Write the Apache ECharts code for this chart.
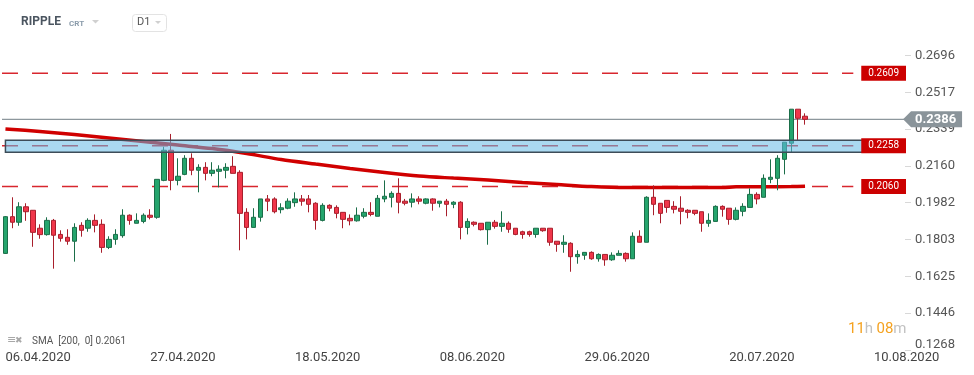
<!DOCTYPE html>
<html>
<head>
<meta charset="utf-8">
<script src="https://cdn.jsdelivr.net/npm/echarts@6/dist/echarts.min.js"></script>
<style>
html,body{margin:0;padding:0;background:#fff;}
#c{width:974px;height:375px;}
</style>
</head>
<body>
<div id="c"></div>
<script>
// ---------- data ----------
const dayCount = 131;           // axis runs from 06.04.2020 to 14.08.2020
const labelEvery = 21;          // one date label every three weeks

const opens = [0.1736,0.1914,0.1887,0.1962,0.1945,0.1858,0.1827,0.1896,0.1828,0.1814,
0.1795,0.1872,0.1858,0.1896,0.1877,0.1765,0.1804,0.1822,0.1921,0.1882,
0.1891,0.1921,0.1911,0.2090,0.2236,0.2090,0.2119,0.2197,0.2139,0.2153,
0.2124,0.2134,0.2139,0.2158,0.2129,0.1935,0.1862,0.1911,0.2000,0.2000,
0.1948,0.1955,0.1982,0.2000,0.2000,0.1979,0.1896,0.1969,0.1959,0.1935,
0.1906,0.1894,0.1916,0.1935,0.1916,0.2000,0.2008,0.2027,0.1989,0.1984,
0.2000,0.1979,0.2000,0.1979,0.1989,0.1974,0.1984,0.1862,0.1887,0.1882,
0.1851,0.1887,0.1867,0.1882,0.1858,0.1841,0.1841,0.1828,0.1858,0.1858,
0.1795,0.1780,0.1785,0.1720,0.1727,0.1741,0.1710,0.1731,0.1705,0.1727,
0.1736,0.1710,0.1819,0.1790,0.2008,0.1979,0.1993,0.1964,0.1955,0.1945,
0.1945,0.1938,0.1882,0.1891,0.1964,0.1955,0.1901,0.1940,0.1959,0.2022,
0.2008,0.2095,0.2100,0.2192,0.2270,0.2435,0.2401];

const closes = [0.1914,0.1887,0.1962,0.1938,0.1838,0.1827,0.1896,0.1824,0.1809,0.1795,
0.1862,0.1848,0.1896,0.1872,0.1765,0.1804,0.1828,0.1921,0.1896,0.1896,
0.1921,0.1911,0.2095,0.2236,0.2090,0.2110,0.2197,0.2139,0.2153,0.2124,
0.2139,0.2144,0.2153,0.2124,0.1930,0.1862,0.1911,0.2000,0.1989,0.1938,
0.1957,0.1989,0.2000,0.1989,0.1974,0.1896,0.1969,0.1955,0.1930,0.1901,
0.1894,0.1921,0.1935,0.1925,0.2003,0.2013,0.2027,0.1984,0.1979,0.2000,
0.1989,0.2000,0.1979,0.1989,0.1974,0.1984,0.1862,0.1891,0.1877,0.1851,
0.1887,0.1867,0.1882,0.1853,0.1828,0.1828,0.1828,0.1858,0.1846,0.1790,
0.1780,0.1790,0.1720,0.1731,0.1741,0.1710,0.1731,0.1705,0.1727,0.1736,
0.1710,0.1819,0.1790,0.2008,0.1974,0.1930,0.1959,0.1950,0.1940,0.1935,
0.1930,0.1882,0.1896,0.1964,0.1950,0.1901,0.1945,0.1964,0.2022,0.2000,
0.2100,0.2105,0.2197,0.2275,0.2435,0.2391,0.2386];

const lows = [0.1733,0.1858,0.1870,0.1894,0.1768,0.1807,0.1822,0.1662,0.1793,0.1778,
0.1696,0.1817,0.1841,0.1838,0.1739,0.1757,0.1778,0.1812,0.1875,0.1882,
0.1882,0.1901,0.1904,0.2086,0.2042,0.2066,0.2115,0.2115,0.2032,0.2090,
0.2110,0.2056,0.2100,0.2124,0.1751,0.1804,0.1862,0.1890,0.1941,0.1930,
0.1930,0.1950,0.1962,0.1967,0.1935,0.1851,0.1891,0.1940,0.1906,0.1858,
0.1872,0.1890,0.1906,0.1916,0.1916,0.1984,0.1959,0.1930,0.1969,0.1959,
0.1974,0.1974,0.1943,0.1959,0.1916,0.1955,0.1804,0.1828,0.1867,0.1847,
0.1778,0.1856,0.1841,0.1836,0.1824,0.1807,0.1817,0.1812,0.1841,0.1773,
0.1744,0.1739,0.1647,0.1686,0.1705,0.1705,0.1696,0.1676,0.1700,0.1727,
0.1696,0.1710,0.1790,0.1790,0.1921,0.1882,0.1933,0.1930,0.1877,0.1906,
0.1921,0.1841,0.1865,0.1891,0.1914,0.1875,0.1896,0.1916,0.1959,0.1974,
0.2008,0.2076,0.2042,0.2119,0.2226,0.2286,0.2360];

const highs = [0.1917,0.2008,0.1984,0.1979,0.1946,0.1877,0.1911,0.1903,0.1848,0.1853,
0.1882,0.1887,0.1906,0.1925,0.1901,0.1819,0.1853,0.1950,0.1925,0.1930,
0.1930,0.1950,0.2095,0.2253,0.2315,0.2197,0.2212,0.2221,0.2168,0.2178,
0.2178,0.2163,0.2173,0.2207,0.2139,0.1955,0.1955,0.2000,0.2019,0.2008,
0.1979,0.2003,0.2032,0.2019,0.2019,0.1984,0.1979,0.1974,0.1969,0.1935,
0.1925,0.1959,0.1955,0.1984,0.2019,0.2090,0.2037,0.2100,0.2000,0.2027,
0.2013,0.2003,0.2003,0.1989,0.2000,0.1989,0.1989,0.1906,0.1891,0.1882,
0.1887,0.1898,0.1940,0.1891,0.1858,0.1846,0.1846,0.1858,0.1858,0.1858,
0.1795,0.1824,0.1790,0.1751,0.1741,0.1746,0.1736,0.1731,0.1741,0.1751,
0.1741,0.1838,0.1848,0.2013,0.2066,0.1979,0.1993,0.1989,0.2013,0.1950,
0.1945,0.1938,0.1930,0.1969,0.1969,0.1955,0.1959,0.1979,0.2051,0.2032,
0.2119,0.2192,0.2212,0.2275,0.2435,0.2435,0.2415];

// SMA(200) read at these day indices
const smaDay   = [0,5,10,15,20,25,30,35,40,45,50,55,60,65,70,75,80,85,90,95,100,104,106,110,114,116];
const smaValue = [0.2339,0.2327,0.2312,0.2295,0.2278,0.2261,0.2244,0.2220,0.2191,0.2169,0.2148,0.2128,
                  0.2111,0.2101,0.2092,0.2080,0.2070,0.2060,0.2055,0.2055,0.2055,0.2055,0.2059,0.2059,0.2060,0.2061];

const priceTicks = [0.1268,0.1446,0.1625,0.1803,0.1982,0.2160,0.2339,0.2517,0.2696];
const levelLines = [0.2609,0.2258,0.2060];
const levelEndDay = 123;
const lastPrice = 0.2386;
const smaLast = 0.2061;
const zone = {fromDay:0, toDay:125, low:0.2226, high:0.2284};
const yMin = 0.126773, yMax = 0.27704;

// ---------- build ----------
function fmtDate(i){
  const d = new Date(Date.UTC(2020,3,6) + i*86400000);
  const dd = String(d.getUTCDate()).padStart(2,'0');
  const mm = String(d.getUTCMonth()+1).padStart(2,'0');
  return dd + '.' + mm + '.' + d.getUTCFullYear();
}
const categories = [];
for (let i=0;i<dayCount;i++) categories.push(fmtDate(i));
const candles = opens.map((o,i)=>[o, closes[i], lows[i], highs[i]]);
const smaData = smaDay.map((d,i)=>[d, smaValue[i]]);

const chart = echarts.init(document.getElementById('c'), null, {renderer:'canvas'});
const F = 'Roboto';
chart.setOption({
  animation:false,
  textStyle:{fontFamily:F},
  grid:{left:2, right:69, top:40, bottom:25},
  xAxis:{
    type:'category', data:categories, boundaryGap:true,
    axisLine:{show:false}, axisTick:{show:false}, splitLine:{show:false},
    axisLabel:{interval:labelEvery-1, align:'left', color:'#444', fontSize:13, margin:1, fontFamily:F}
  },
  yAxis:[{
    type:'value', position:'right', min:yMin, max:yMax,
    axisLine:{show:false}, splitLine:{show:false},
    axisTick:{show:true, length:6, customValues:priceTicks, lineStyle:{color:'#d8d8d8'}},
    axisLabel:{customValues:priceTicks, color:'#555', fontSize:13, margin:10, fontFamily:F,
      formatter:v=> v===priceTicks[0] ? '{b|'+v.toFixed(4)+'}' : v.toFixed(4),
      rich:{b:{color:'#555', fontSize:13, fontFamily:F, padding:[0,0,10,0]}}}
  },{
    type:'value', position:'right', min:yMin, max:yMax, z:10,
    axisLine:{show:false}, splitLine:{show:false}, axisTick:{show:false},
    axisLabel:{inside:true, customValues:levelLines, margin:-1, color:'#fff', fontSize:10, fontFamily:F,
      backgroundColor:'#cc0000', padding:[2,7,2,7], lineHeight:11, formatter:v=>v.toFixed(4)}
  }],
  series:[{
    // horizontal level lines (dashed red) and last-price line (grey)
    type:'custom', z:1, silent:true,
    data:[...levelLines.map(v=>[levelEndDay, v, 0]), [dayCount-1, lastPrice, 1]],
    encode:{x:0, y:1},
    renderItem:function(params, api){
      const cs = params.coordSys;
      const end = api.coord([api.value(0), api.value(1)]);
      const isLast = api.value(2) === 1;
      return {type:'line',
        shape:{x1:cs.x, y1:end[1], x2: isLast ? cs.x + cs.width : end[0], y2:end[1]},
        style: isLast ? {stroke:'#8d979d', lineWidth:1.2}
                      : {stroke:'#d8262e', lineWidth:1.4, lineDash:[16,14]}};
    }
  },{
    type:'line', name:'SMA', data:smaData, z:2, smooth:0.3, showSymbol:false, symbol:'none',
    lineStyle:{color:'#d00000', width:3.5}
  },{
    type:'candlestick', data:candles, z:3, barWidth:5,
    itemStyle:{color:'#25a56d', color0:'#f0364a', borderColor:'#1b6e49', borderColor0:'#a81f2c', borderWidth:1},
    markPoint:{
      symbol:'path://M0,8L8,0L59,0L59,16L8,16Z', symbolSize:[59,16], symbolKeepAspect:false,
      symbolOffset:[31,0], itemStyle:{color:'#8a949a'},
      label:{show:true, position:'inside', formatter:lastPrice.toFixed(4), color:'#fff', fontSize:13, fontWeight:'bold', offset:[3,0], fontFamily:F},
      data:[{coord:[categories[dayCount-1], lastPrice]}]
    }
  },{
    type:'custom', z:4, silent:true,
    data:[[zone.fromDay, zone.toDay, zone.low, zone.high]],
    encode:{x:[0,1], y:[2,3]},
    renderItem:function(params, api){
      const a = api.coord([api.value(0), api.value(3)]);
      const b = api.coord([api.value(1), api.value(2)]);
      return {type:'rect', shape:{x:a[0], y:a[1], width:b[0]-a[0], height:b[1]-a[1]},
        style:{fill:'rgba(100,185,230,0.55)', stroke:'#3d4c58', lineWidth:1.5}};
    }
  }],
  graphic:[
    {type:'text', left:21, top:16, style:{text:'RIPPLE', font:'bold 12px Roboto', fill:'#4b5560'}},
    {type:'text', left:69, top:19.5, style:{text:'CRT', font:'bold 8px Roboto', fill:'#8b9cab'}},
    {type:'polygon', shape:{points:[[92,20],[99,20],[95.5,23.5]]}, style:{fill:'#d0d0d0'}},
    {type:'rect', shape:{x:132.5, y:14.5, width:34, height:17, r:3}, style:{fill:'#fff', stroke:'#e3e3e3', lineWidth:1}},
    {type:'text', left:137, top:17, style:{text:'D1', font:'11px Roboto', fill:'#555'}},
    {type:'polygon', shape:{points:[[155,21],[161,21],[158,24]]}, style:{fill:'#d0d0d0'}},
    {type:'text', left:7, top:335, style:{text:'≡', font:'11px DejaVu Sans', fill:'#a8a8a8'}},
    {type:'text', left:15, top:336, style:{text:'✖', font:'9px DejaVu Sans', fill:'#a8a8a8'}},
    {type:'text', left:32, top:336.5, style:{text:'SMA  [200,  0] ' + smaLast.toFixed(4), font:'10px Roboto', fill:'#555'}},
    {type:'text', left:848, top:322, style:{
      text:'{o|11}{g|h} {o|08}{g|m}',
      rich:{o:{fill:'#f5a21f', font:'15px Roboto'}, g:{fill:'#c2c2c2', font:'15px Roboto'}}
    }}
  ]
});
</script>
</body>
</html>
